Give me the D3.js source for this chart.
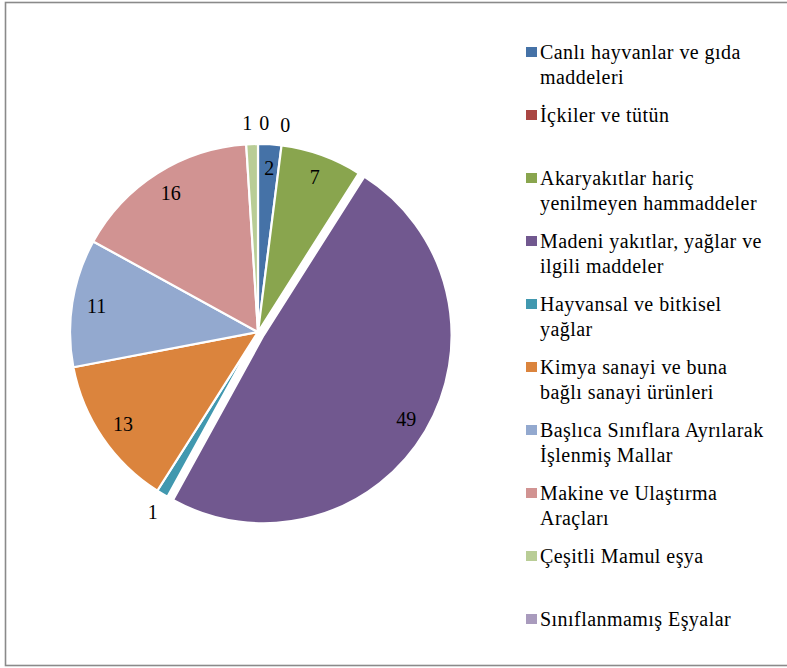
<!DOCTYPE html>
<html>
<head>
<meta charset="utf-8">
<script src="https://cdn.jsdelivr.net/npm/d3@7"></script>
<style>
  html, body { margin: 0; padding: 0; background: #fff; }
  svg { display: block; }
  text { font-family: "Liberation Serif", "Times New Roman", "DejaVu Serif", serif; fill: #000; }
</style>
</head>
<body>
<svg id="chart" width="787" height="668"></svg>
<script>
// ---- data ----
const categories = [
  ["Canlı hayvanlar ve gıda", "maddeleri"],
  ["İçkiler ve tütün"],
  ["Akaryakıtlar hariç", "yenilmeyen hammaddeler"],
  ["Madeni yakıtlar, yağlar ve", "ilgili maddeler"],
  ["Hayvansal ve bitkisel", "yağlar"],
  ["Kimya sanayi ve buna", "bağlı sanayi ürünleri"],
  ["Başlıca Sınıflara Ayrılarak", "İşlenmiş Mallar"],
  ["Makine ve Ulaştırma", "Araçları"],
  ["Çeşitli Mamul eşya"],
  ["Sınıflanmamış Eşyalar"]
];
const values = [2, 0, 7, 49, 1, 13, 11, 16, 1, 0];
const colors = ["#4572A7", "#AA4643", "#89A54E", "#71588F", "#4198AF",
                "#DB843D", "#93A9CF", "#D19392", "#B9CD96", "#A99BBD"];
const exploded = [false, false, false, true, false, false, false, false, false, false];

// ---- layout ----
const svg = d3.select("#chart");
const cx = 258, cy = 332, R = 188, explodeDist = 6.5;
const fontSize = 20;
const fontFam = '"Liberation Serif", "Times New Roman", "DejaVu Serif", serif';

svg.append("rect")
  .attr("x", 5.5).attr("y", 2.5)
  .attr("width", 800).attr("height", 663)
  .attr("fill", "#fff")
  .attr("stroke", "#8a8a8a").attr("stroke-width", 1.6);

const pie = d3.pie().sort(null).value(d => d.v).startAngle(0).endAngle(2 * Math.PI);
const data = values.map((v, i) => ({ v, i }));
const arcs = pie(data);
const arc = d3.arc().innerRadius(0).outerRadius(R);

const g = svg.append("g").attr("transform", `translate(${cx},${cy})`);

function offset(d) {
  if (!exploded[d.data.i]) return [0, 0];
  const m = (d.startAngle + d.endAngle) / 2;
  return [Math.sin(m) * explodeDist, -Math.cos(m) * explodeDist];
}

g.selectAll("path.slice")
  .data(arcs.filter(d => d.value > 0))
  .join("path")
  .attr("class", "slice")
  .attr("d", arc)
  .attr("transform", d => { const o = offset(d); return `translate(${o[0]},${o[1]})`; })
  .attr("fill", d => colors[d.data.i])
  .attr("stroke", "#fff")
  .attr("stroke-width", 2.2)
  .attr("stroke-linejoin", "round");

// labels
const inR = R * 0.875, outR = R + 21;
const labels = arcs.map(d => {
  const m = (d.startAngle + d.endAngle) / 2;
  const o = offset(d);
  const inside = d.value >= 2;
  const r = inside ? inR : outR;
  return { text: String(d.value), x: Math.sin(m) * r + o[0], y: -Math.cos(m) * r + o[1], inside };
});
// simple horizontal de-overlap for outside labels near each other
const outs = labels.filter(l => !l.inside).sort((a, b) => a.x - b.x);
for (let iter = 0; iter < 10; iter++) {
  for (let k = 1; k < outs.length; k++) {
    const a = outs[k - 1], b = outs[k];
    if (Math.abs(a.y - b.y) < 20 && b.x - a.x < 17) {
      const def = 17 - (b.x - a.x);
      a.x -= def / 2; b.x += def / 2;
    }
  }
}
g.selectAll("text.lbl")
  .data(labels)
  .join("text")
  .attr("class", "lbl")
  .attr("x", d => d.x + 1).attr("y", d => d.y)
  .attr("text-anchor", "middle")
  .attr("dominant-baseline", "central")
  .attr("font-family", fontFam)
  .style("font-size", fontSize + "px")
  .text(d => d.text);

// legend
const legX = 526, legY0 = 52, legStep = 63, lineH = 25;
const leg = svg.append("g");
const items = leg.selectAll("g.item").data(categories).join("g")
  .attr("class", "item")
  .attr("transform", (d, i) => `translate(${legX},${legY0 + i * legStep})`);
items.append("rect")
  .attr("x", 0).attr("y", -5).attr("width", 11).attr("height", 10)
  .attr("fill", (d, i) => colors[i]);
items.each(function(lines) {
  const t = d3.select(this).append("text")
    .attr("x", 14).attr("y", 0)
    .attr("dominant-baseline", "central")
    .attr("font-family", fontFam)
    .style("letter-spacing", "0.45px")
    .style("font-size", fontSize + "px");
  lines.forEach((ln, j) => {
    t.append("tspan").attr("x", 14).attr("y", j * lineH).text(ln);
  });
});
</script>
</body>
</html>
